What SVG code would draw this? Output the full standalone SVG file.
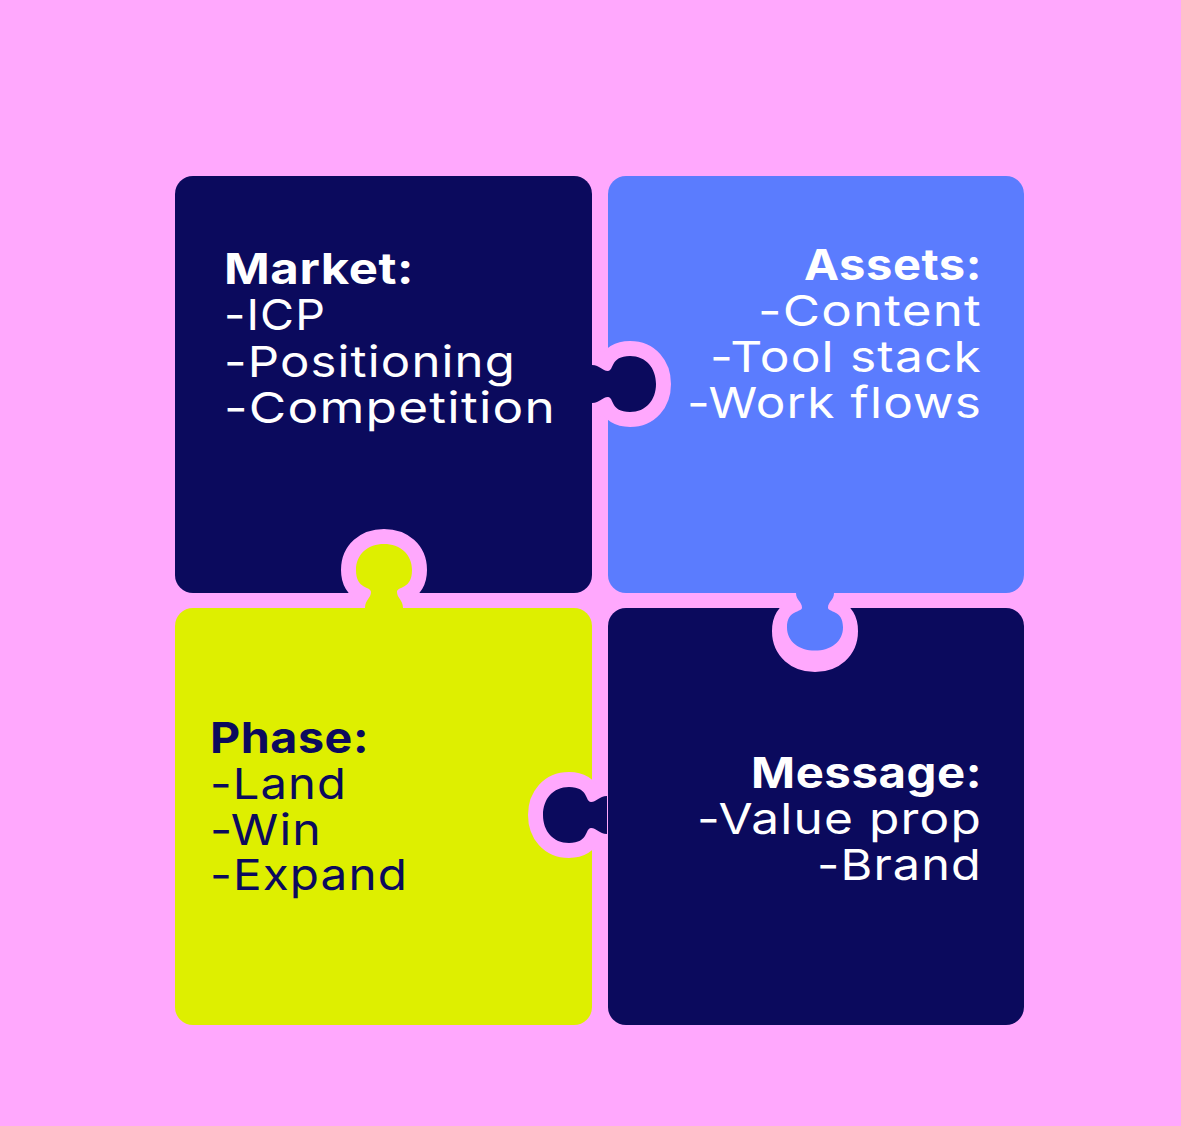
<svg xmlns="http://www.w3.org/2000/svg" width="1181" height="1126" viewBox="0 0 1181 1126">
<style>
.navy{fill:#0B0A5D}
.blue{fill:#5B7CFE}
.yel{fill:#DEEF00}
.ring{fill:none;stroke:#FFA8FD;stroke-width:30;stroke-linejoin:round}
.t{font-family:Inter,"Open Sans","Liberation Sans",sans-serif;font-size:43px;letter-spacing:1px}
.h{font-weight:700;letter-spacing:0.5px}
.w{fill:#FFFFFF}
.d{fill:#0B0A5D}
</style>
<defs>
<path id="tab" d="M 0,-19 C 8,-19 10,-13 16,-13 C 22,-13 18,-28 38,-28 C 54,-28 64,-16 64,0 C 64,16 54,28 38,28 C 18,28 22,13 16,13 C 10,13 8,19 0,19 Z"/>
<clipPath id="out" clipPathUnits="userSpaceOnUse"><rect x="0" y="-120" width="200" height="240"/></clipPath>
</defs>
<rect width="1181" height="1126" fill="#FFA8FD"/>
<g id="tile-market">
<rect class="navy" x="175" y="176" width="417" height="417" rx="18"/>
</g>
<g id="tile-assets">
<rect class="blue" x="608" y="176" width="416" height="417" rx="18"/>
</g>
<g id="tile-phase">
<rect class="yel" x="175" y="608" width="417" height="417" rx="18"/>
</g>
<g id="tile-message">
<rect class="navy" x="608" y="608" width="416" height="417" rx="18"/>
</g>
<g id="connectors">
<g id="knob-market" transform="translate(592,384)">
<use href="#tab" class="ring" clip-path="url(#out)"/>
<use href="#tab" class="navy"/>
</g>
<g id="knob-assets" transform="translate(815,593) rotate(90)">
<use href="#tab" class="ring" clip-path="url(#out)"/>
<use href="#tab" class="blue" transform="scale(0.9,1)"/>
</g>
<g id="knob-message" transform="translate(607,815) rotate(180)">
<use href="#tab" class="ring" clip-path="url(#out)"/>
<use href="#tab" class="navy"/>
</g>
<g id="knob-phase" transform="translate(384,608) rotate(-90)">
<use href="#tab" class="ring" clip-path="url(#out)"/>
<use href="#tab" class="yel"/>
</g>
</g>
<g id="text-market" class="t w">
<text class="h" x="224" y="284" textLength="190" lengthAdjust="spacingAndGlyphs">Market:</text>
<text x="224" y="330" textLength="102" lengthAdjust="spacingAndGlyphs">-ICP</text>
<text x="224" y="377" textLength="292" lengthAdjust="spacingAndGlyphs">-Positioning</text>
<text x="224" y="423" textLength="332" lengthAdjust="spacingAndGlyphs">-Competition</text>
</g>
<g id="text-assets" class="t w" text-anchor="end">
<text class="h" x="982" y="280" textLength="178" lengthAdjust="spacingAndGlyphs">Assets:</text>
<text x="982" y="326" textLength="224" lengthAdjust="spacingAndGlyphs">-Content</text>
<text x="982" y="372" textLength="272" lengthAdjust="spacingAndGlyphs">-Tool stack</text>
<text x="982" y="418" textLength="295" lengthAdjust="spacingAndGlyphs">-Work flows</text>
</g>
<g id="text-message" class="t w" text-anchor="end">
<text class="h" x="982" y="788" textLength="231" lengthAdjust="spacingAndGlyphs">Message:</text>
<text x="982" y="834" textLength="285" lengthAdjust="spacingAndGlyphs">-Value prop</text>
<text x="982" y="880" textLength="165" lengthAdjust="spacingAndGlyphs">-Brand</text>
</g>
<g id="text-phase" class="t d">
<text class="h" x="210" y="753" textLength="159" lengthAdjust="spacingAndGlyphs">Phase:</text>
<text x="210" y="799" textLength="137" lengthAdjust="spacingAndGlyphs">-Land</text>
<text x="210" y="845" textLength="112" lengthAdjust="spacingAndGlyphs">-Win</text>
<text x="210" y="890" textLength="198" lengthAdjust="spacingAndGlyphs">-Expand</text>
</g>
</svg>
